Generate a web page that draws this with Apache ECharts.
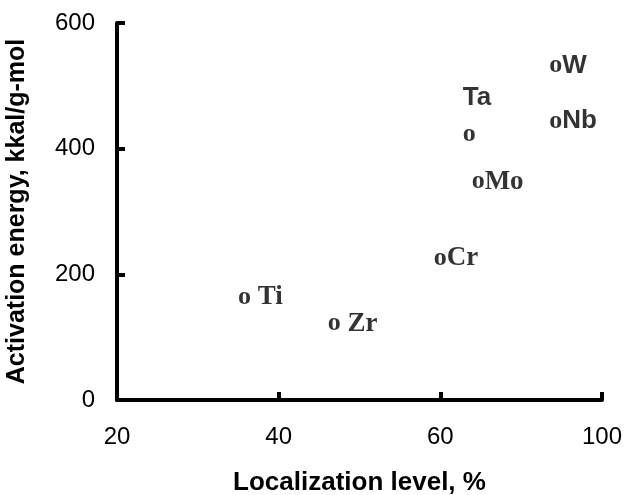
<!DOCTYPE html>
<html>
<head>
<meta charset="utf-8">
<script src="https://cdn.jsdelivr.net/npm/echarts@6/dist/echarts.min.js"></script>
<style>html,body{margin:0;padding:0;background:#fff;}#c{width:625px;height:495px;}</style>
</head>
<body>
<div id="c"></div>
<script>
// Data (x in axis position units; the axis is labelled 20, 40, 60, 100 at equal steps)
const names = ['Ti', 'Zr', 'Cr', 'Mo', 'Ta', 'Nb', 'W'];
const xVals = [35.9, 47.0, 60.1, 64.8, 63.7, 74.4, 74.4];
const yVals = [166, 124, 228, 350, 425, 446, 535];
const xTickLabels = ['20', '40', '60', '100'];
const yTickLabels = ['0', '200', '400', '600'];

const serif = 'Liberation Serif, Times New Roman, serif';
const sans = 'Liberation Sans, Arial, sans-serif';
// label style per element
const sansNames = { Ta: true, Nb: true, W: true };
const spacedNames = { Ti: true, Zr: true };

const pts = names.map((n, i) => [xVals[i], yVals[i], n]);

const rich = {
  o: { fontFamily: serif, fontWeight: 'bold', fontSize: 26, color: '#000' },
  s: { fontFamily: serif, fontWeight: 'bold', fontSize: 27, color: '#000' },
  a: { fontFamily: sans, fontWeight: 'bold', fontSize: 26, color: '#000' }
};

const chart = echarts.init(document.getElementById('c'), null, { renderer: 'canvas' });
const axisLine = { show: true, onZero: false, lineStyle: { color: '#000', width: 4 } };
chart.setOption({
  animation: false,
  grid: { left: 117, right: 23, top: 23, bottom: 95, outerBoundsMode: 'none', containLabel: false },
  xAxis: {
    type: 'value', min: 20, max: 80, interval: 20,
    name: 'Localization level, %', nameLocation: 'middle', nameGap: 70,
    nameTextStyle: { fontFamily: sans, fontWeight: 'bold', fontSize: 26, color: '#000' },
    axisLine: axisLine,
    axisTick: { show: true, inside: true, length: 8, lineStyle: { color: '#000', width: 4 } },
    axisLabel: { color: '#000', fontFamily: sans, fontSize: 24, margin: 25,
      formatter: v => xTickLabels[Math.round((v - 20) / 20)] },
    splitLine: { show: false }
  },
  yAxis: {
    type: 'value', min: 0, max: 600, interval: 200,
    name: 'Activation energy, kkal/g-mol', nameLocation: 'middle', nameGap: 87,
    nameTextStyle: { fontFamily: sans, fontWeight: 'bold', fontSize: 25, color: '#000' },
    axisLine: axisLine,
    axisTick: { show: true, inside: true, length: 8, lineStyle: { color: '#000', width: 4 } },
    axisLabel: { color: '#000', fontFamily: sans, fontSize: 24, margin: 22,
      formatter: v => yTickLabels[Math.round(v / 200)] },
    splitLine: { show: false }
  },
  series: [
    {
      type: 'scatter', name: 'points', symbolSize: 1,
      itemStyle: { color: 'rgba(0,0,0,0)' },
      data: pts.map(p => {
        const n = p[2];
        let fmt;
        if (n === 'Ta') fmt = '{o|o}';
        else if (sansNames[n]) fmt = '{o|o}{a|' + n + '}';
        else fmt = '{o|o}{s|' + (spacedNames[n] ? ' ' : '') + n + '}';
        return { value: p, label: { show: true, position: [0, 0], align: 'left', verticalAlign: 'middle',
          offset: [-7, 2], formatter: fmt, rich: rich, color: '#000' } };
      })
    },
    {
      type: 'scatter', name: 'Ta label', symbolSize: 1,
      itemStyle: { color: 'rgba(0,0,0,0)' },
      data: pts.filter(p => p[2] === 'Ta').map(p => ({ value: p, label: { show: true, position: [0, 0],
        align: 'left', verticalAlign: 'middle', offset: [-7, -35], formatter: '{a|' + p[2] + '}', rich: rich, color: '#000' } }))
    }
  ]
});
</script>
</body>
</html>
